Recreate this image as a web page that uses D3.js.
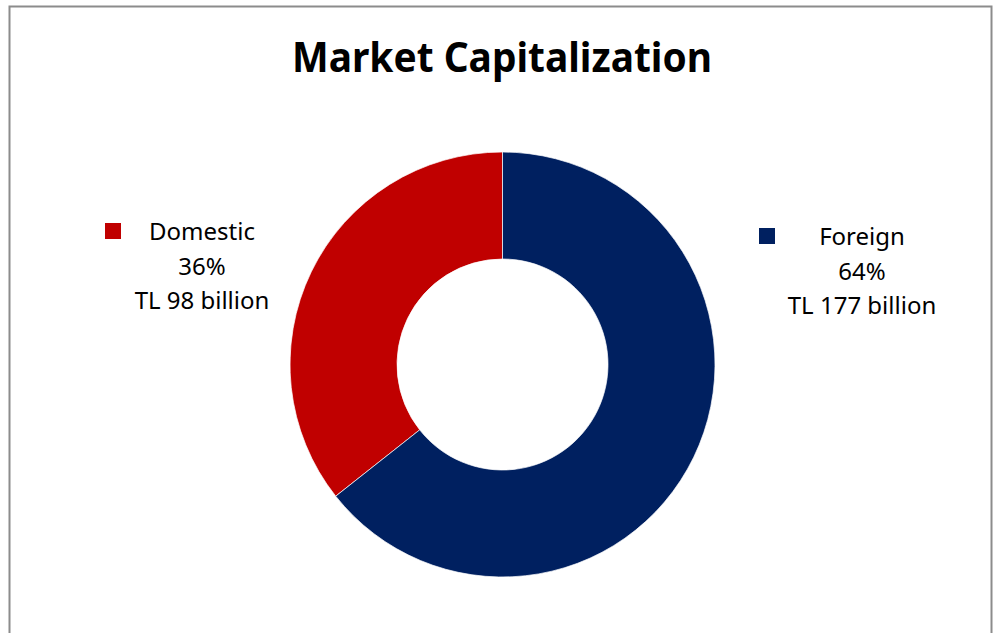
<!DOCTYPE html>
<html>
<head>
<meta charset="utf-8">
<style>
  body { margin: 0; background: #fff; }
  text { font-family: "Noto Sans", sans-serif; fill: #000; font-variant-ligatures: none; }
</style>
</head>
<body>
<script src="https://cdn.jsdelivr.net/npm/d3@7"></script>
<script>

const width = 1000;
const height = 633;

// chart data
const categories = ['Domestic', 'Foreign'];
const values = [98, 177];            // TL billion
const percents = ['36%', '64%'];
const colors = ['#C00000', '#002060'];

const svg = d3.select('body')
              .append('svg')
              .attr('width', width)
              .attr('height', height);

// outer frame
svg.append('rect')
   .attr('x', 9.5)
   .attr('y', 6.5)
   .attr('width', 982)
   .attr('height', 640)
   .attr('fill', 'none')
   .attr('stroke', '#8c8c8c')
   .attr('stroke-width', 2);

svg.append('text')
   .attr('x', 502)
   .attr('y', 72)
   .attr('text-anchor', 'middle')
   .attr('textLength', 420)
   .attr('lengthAdjust', 'spacingAndGlyphs')
   .style('font-size', '41px')
   .style('font-weight', 'bold')
   .text('Market Capitalization');

const cx = 502.5, cy = 364.5;
const outerR = 212.5, innerR = 105.5;

// domestic runs counter-clockwise from 12 o'clock, foreign fills the rest
const pie = d3.pie()
              .sort(null)
              .startAngle(0)
              .endAngle(-2 * Math.PI);

const arc = d3.arc()
              .innerRadius(innerR)
              .outerRadius(outerR);

const g = svg.append('g')
             .attr('transform', `translate(${cx},${cy})`);

g.selectAll('path')
 .data(pie(values))
 .enter()
 .append('path')
 .attr('d', arc)
 .attr('fill', (d, i) => colors[i])
 .attr('stroke', '#fff')
 .attr('stroke-width', 0.7);

// labels with legend keys
const labelPos = [
  {key: [105, 223], x: 202, y: 240},
  {key: [759, 228], x: 862, y: 245}
];

const lab = svg.selectAll('g.lab')
               .data(categories)
               .enter()
               .append('g')
               .attr('class', 'lab');

lab.append('rect')
   .attr('x', (d, i) => labelPos[i].key[0])
   .attr('y', (d, i) => labelPos[i].key[1])
   .attr('width', 16)
   .attr('height', 16)
   .attr('fill', (d, i) => colors[i]);

lab.append('text')
   .attr('text-anchor', 'middle')
   .style('font-size', '24px')
   .selectAll('tspan')
   .data((d, i) => [d, percents[i], `TL ${values[i]} billion`].map(t => ({t, i})))
   .enter()
   .append('tspan')
   .attr('x', d => labelPos[d.i].x)
   .attr('y', (d, j) => labelPos[d.i].y + j * 34.5)
   .text(d => d.t);

</script>
</body>
</html>
